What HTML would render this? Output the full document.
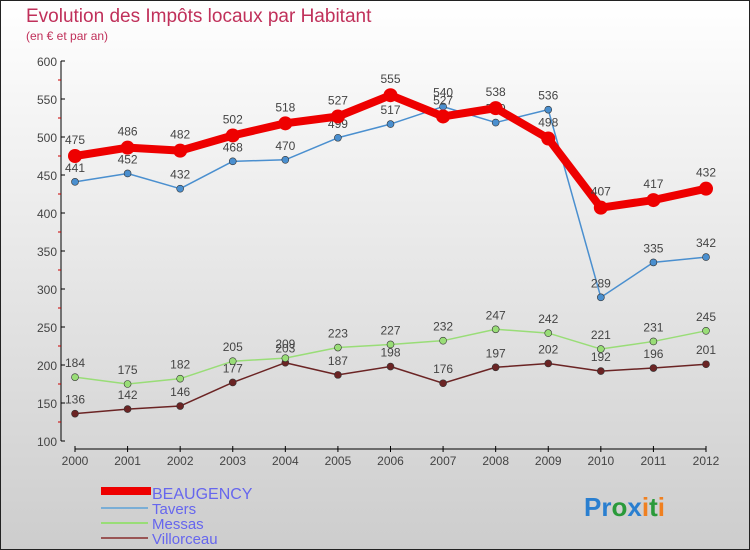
<!DOCTYPE html>
<html><head><meta charset="utf-8"><style>
body{margin:0}
#c{width:750px;height:550px;position:relative;overflow:hidden;font-family:"Liberation Sans",sans-serif}
</style></head><body>
<div id="c">
<svg id="s" width="750" height="550" xmlns="http://www.w3.org/2000/svg">
<defs><linearGradient id="bg" x1="0" y1="0" x2="0" y2="1"><stop offset="0" stop-color="#ffffff"/><stop offset="1" stop-color="#cdcdcd"/></linearGradient></defs>
<rect x="0.5" y="0.5" width="749" height="549" fill="url(#bg)" stroke="#222"/>
<text x="26" y="22" font-size="19" fill="#c0305a">Evolution des Impôts locaux par Habitant</text>
<text x="26" y="40" font-size="12" fill="#c0305a">(en € et par an)</text>
<g id="axes"></g><g id="plot"></g>
<g>
<rect x="101" y="487" width="50" height="8" fill="#e00"/>
<text x="152" y="499" font-size="16" fill="#6666ee">BEAUGENCY</text>
<line x1="101" y1="508" x2="148" y2="508" stroke="#7aaed6" stroke-width="2"/>
<text x="152" y="514" font-size="15" fill="#6666ee">Tavers</text>
<line x1="101" y1="523" x2="148" y2="523" stroke="#99dd77" stroke-width="2"/>
<text x="152" y="529" font-size="15" fill="#6666ee">Messas</text>
<line x1="101" y1="538" x2="148" y2="538" stroke="#995555" stroke-width="2"/>
<text x="152" y="544" font-size="15" fill="#6666ee">Villorceau</text>
</g>
<text x="584" y="516" font-size="26" font-weight="bold"><tspan fill="#2a7fd0">Pr</tspan><tspan fill="#2a9a3a">o</tspan><tspan fill="#2a7fd0">x</tspan><tspan fill="#f08020">i</tspan><tspan fill="#2a9a3a">t</tspan><tspan fill="#f08020">i</tspan></text>
</svg>
</div>
<script>
const years=[2000,2001,2002,2003,2004,2005,2006,2007,2008,2009,2010,2011,2012];
const yTicks=[100,150,200,250,300,350,400,450,500,550,600];
const beaugency=[475,486,482,502,518,527,555,527,538,498,407,417,432];
const tavers=[441,452,432,468,470,499,517,540,519,536,289,335,342];
const messas=[184,175,182,205,209,223,227,232,247,242,221,231,245];
const villorceau=[136,142,146,177,203,187,198,176,197,202,192,196,201];
const NS="http://www.w3.org/2000/svg";
const X=i=>75+i*(706-75)/12;
const Y=v=>441-(v-100)*(441-61)/500;
function mk(t,a,p){const e=document.createElementNS(NS,t);for(const k in a)e.setAttribute(k,a[k]);p.appendChild(e);return e;}
const ax=document.getElementById('axes'),pl=document.getElementById('plot');
const yl=mk('line',{x1:61,y1:61,x2:61,y2:441,stroke:'#000'},ax);


yTicks.forEach((t,i)=>{mk('line',{x1:61,y1:Y(t),x2:65,y2:Y(t),stroke:'#000'},ax);
 if(i<yTicks.length-1)mk('line',{x1:58,y1:Y(t+25),x2:61,y2:Y(t+25),stroke:'#c00'},ax);
 const tx=mk('text',{x:57,y:Y(t)+5,'font-size':12,fill:'#444','text-anchor':'end'},ax);tx.textContent=t;
 
 });
const xl=mk('line',{x1:X(0),y1:449,x2:X(12),y2:449,stroke:'#000'},ax);


years.forEach((y,i)=>{mk('line',{x1:X(i),y1:446,x2:X(i),y2:452,stroke:'#000'},ax);
 const tx=mk('text',{x:X(i),y:465,'font-size':12,fill:'#444','text-anchor':'middle'},ax);tx.textContent=y;
 
 });
function series(d,name,col,w,r,lab){
 const g=mk('g',{},pl);
 
 
 mk('polyline',{points:d.map((v,i)=>X(i)+','+Y(v)).join(' '),fill:'none',stroke:col,'stroke-width':w,'stroke-linejoin':'round'},g);
 d.forEach((v,i)=>{const c=mk('circle',{cx:X(i),cy:Y(v),r:r,fill:col,stroke:w>3?col:'#333','stroke-width':w>3?0:0.6},g);
  
  
  const t=mk('text',{x:X(i),y:Y(v)+lab,'font-size':12,fill:'#444','text-anchor':'middle'},g);t.textContent=v;});
}
series(villorceau,'villorceau','#6b2424',1.5,3.5,-10);
series(messas,'messas','#99dd77',1.5,3.5,-10);
series(tavers,'tavers','#4a8fcf',1.5,3.5,-10);
series(beaugency,'beaugency','#ee0000',8,7,-12);
</script>
</body></html>
